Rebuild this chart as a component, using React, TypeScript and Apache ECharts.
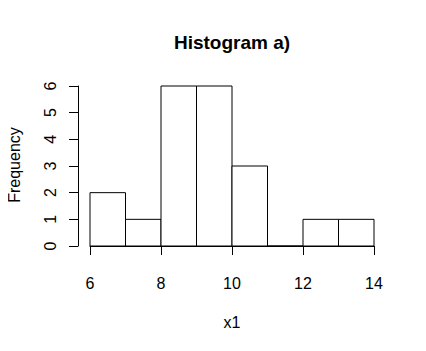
import React, { useEffect, useRef } from "react";
import * as echarts from "echarts";

const binStarts = [6, 7, 8, 9, 10, 11, 12, 13];
const binEnds = [7, 8, 9, 10, 11, 12, 13, 14];
const counts = [2, 1, 6, 6, 3, 0, 1, 1];
const xTicks = [6, 8, 10, 12, 14];
const yTicks = [0, 1, 2, 3, 4, 5, 6];
const titleText = "Histogram a)";
const xLabel = "x1";
const yLabel = "Frequency";

const FONT = "Liberation Sans, Arial, sans-serif";

export default function App() {
  const ref = useRef<HTMLDivElement>(null);
  useEffect(() => {
    if (!ref.current) return;
    const chart = echarts.init(ref.current, undefined, { renderer: "svg" });
    const data = binStarts.map((s, i) => [s, binEnds[i], counts[i]]);
    chart.setOption({
      animation: false,
      backgroundColor: "#ffffff",
      grid: { left: 90, right: 52, top: 86, bottom: 105, containLabel: false },
      xAxis: {
        type: "value",
        min: xTicks[0],
        max: xTicks[xTicks.length - 1],
        interval: 2,
        offset: 8,
        axisLine: { show: true, lineStyle: { color: "#000", width: 1 } },
        axisTick: { show: true, length: 9, lineStyle: { color: "#000" } },
        axisLabel: { color: "#000", fontFamily: FONT, fontSize: 16, margin: 21 },
        splitLine: { show: false },
      },
      yAxis: {
        type: "value",
        min: yTicks[0],
        max: yTicks[yTicks.length - 1],
        interval: 1,
        offset: 12,
        axisLine: { show: true, lineStyle: { color: "#000", width: 1 } },
        axisTick: { show: true, length: 9, lineStyle: { color: "#000" } },
        axisLabel: {
          color: "#000",
          fontFamily: FONT,
          fontSize: 16,
          rotate: 90,
          margin: 20,
        },
        splitLine: { show: false },
      },
      series: [
        {
          type: "custom",
          data,
          renderItem: (params: any, api: any) => {
            const p0 = api.coord([api.value(0), api.value(2)]);
            const p1 = api.coord([api.value(1), 0]);
            return {
              type: "rect",
              shape: { x: p0[0], y: p0[1], width: p1[0] - p0[0], height: p1[1] - p0[1] },
              style: { fill: "#ffffff", stroke: "#000000", lineWidth: 1 },
            };
          },
        },
      ],
      graphic: [
        {
          type: "text",
          x: 232,
          y: 42,
          style: {
            text: titleText,
            fontFamily: FONT,
            fontSize: 19,
            fontWeight: "bold",
            fill: "#000",
            align: "center",
            verticalAlign: "middle",
          },
        },
        {
          type: "text",
          x: 232,
          y: 322,
          style: {
            text: xLabel,
            fontFamily: FONT,
            fontSize: 16,
            fill: "#000",
            align: "center",
            verticalAlign: "middle",
          },
        },
        {
          type: "text",
          x: 14,
          y: 165,
          rotation: Math.PI / 2,
          style: {
            text: yLabel,
            fontFamily: FONT,
            fontSize: 16,
            fill: "#000",
            align: "center",
            verticalAlign: "middle",
          },
        },
      ],
    });
    return () => chart.dispose();
  }, []);
  return <div ref={ref} style={{ width: 426, height: 351, margin: -8 }} />;
}
